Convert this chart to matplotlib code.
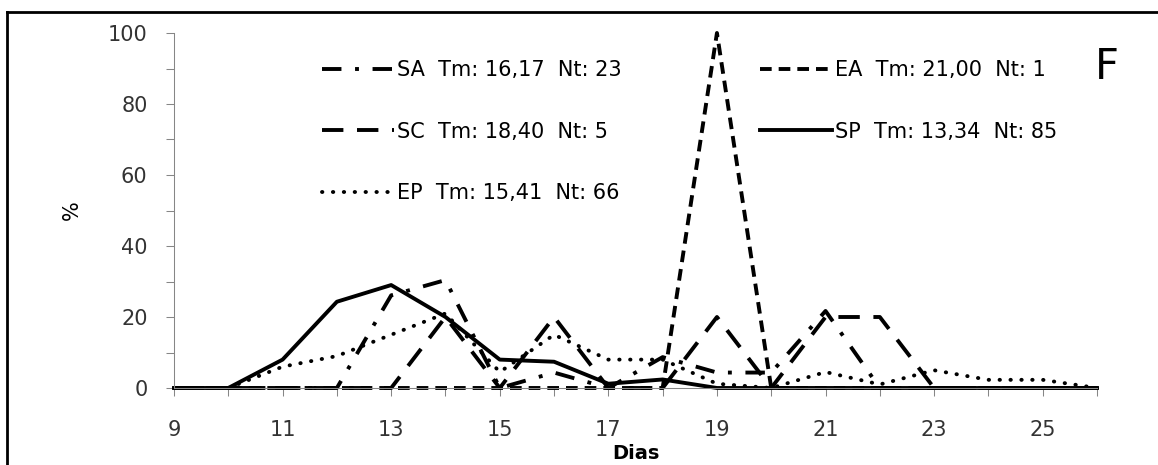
import matplotlib

matplotlib.use("Agg")
import matplotlib.pyplot as plt
from matplotlib.lines import Line2D

plt.rcParams["font.family"] = "DejaVu Sans"

W, H = 1158, 465

days = list(range(9, 27))
sa = [0, 0, 0, 0, 26.1, 30.4, 0, 4.35, 0, 8.7, 4.35, 4.35, 21.7, 0, 0, 0, 0, 0]
ea = [0, 0, 0, 0, 0, 0, 0, 0, 0, 0, 100, 0, 0, 0, 0, 0, 0, 0]
sc = [0, 0, 0, 0, 0, 20, 0, 20, 0, 0, 20, 0, 20, 20, 0, 0, 0, 0]
sp = [0, 0, 8, 24.3, 29, 20, 8, 7.4, 1.2, 2.4, 0, 0, 0, 0, 0, 0, 0, 0]
ep = [0, 0, 6, 9, 15, 21, 4.5, 15, 8, 8, 1.2, 0, 4.5, 1, 5, 2.3, 2.3, 0]

labels = {
    "SA": "SA  Tm: 16,17  Nt: 23",
    "EA": "EA  Tm: 21,00  Nt: 1",
    "SC": "SC  Tm: 18,40  Nt: 5",
    "SP": "SP  Tm: 13,34  Nt: 85",
    "EP": "EP  Tm: 15,41  Nt: 66",
}

LW = 2.8
GRAY = "#868686"

fig = plt.figure(figsize=(W / 100, H / 100), dpi=100)
ax = fig.add_axes([174 / W, 1 - 388 / H, (1097 - 174) / W, (388 - 33) / H])

styles = {
    "SA": dict(linestyle=(0, (5, 3.5, 1, 3.5))),
    "EA": dict(linestyle=(0, (3, 1.8))),
    "SC": dict(linestyle=(0, (5.5, 3.5))),
    "SP": dict(linestyle="-"),
    "EP": dict(linestyle=(0, (0.1, 2.7)), dash_capstyle="round"),
}
series = {"SA": sa, "EA": ea, "SC": sc, "SP": sp, "EP": ep}

handles = {}
for key in ["SA", "EA", "SC", "SP", "EP"]:
    (ln,) = ax.plot(days, series[key], color="black", lw=LW, clip_on=False,
                    label=labels[key], **styles[key])
    handles[key] = ln

ax.set_xlim(9, 26)
ax.set_ylim(0, 100)
for side in ["top", "right"]:
    ax.spines[side].set_visible(False)
for side in ["left", "bottom"]:
    ax.spines[side].set_color(GRAY)
    ax.spines[side].set_linewidth(0.75)

ax.set_yticks(range(0, 101, 20))
ax.set_yticks(range(10, 100, 20), minor=True)
ax.set_xticks(range(9, 26, 2))
ax.set_xticks(range(10, 27, 2), minor=True)
ax.tick_params(axis="both", which="both", direction="out", length=6, width=0.75,
               color=GRAY, labelsize=15, labelcolor="#333333")
ax.tick_params(axis="y", which="major", pad=13)
ax.tick_params(axis="x", which="major", pad=17)

fig.text(72 / W, 1 - 210 / H, "%", rotation=90, ha="center", va="center", fontsize=15)
fig.text(636 / W, 1 - 453 / H, "Dias", ha="center", va="center", fontsize=14, fontweight="bold")
fig.text(1107 / W, 1 - 67 / H, "F", ha="center", va="center", fontsize=30)

leg_kw = dict(frameon=False, fontsize=15, handlelength=3.45, handletextpad=0.15,
              labelspacing=2.0, borderpad=0, borderaxespad=0, loc="upper left")
fig.legend([handles[k] for k in ["SA", "SC", "EP"]], [labels[k] for k in ["SA", "SC", "EP"]],
           bbox_to_anchor=(322 / W, 1 - 60 / H), **leg_kw)
fig.legend([handles[k] for k in ["EA", "SP"]], [labels[k] for k in ["EA", "SP"]],
           bbox_to_anchor=(760 / W, 1 - 60 / H), **leg_kw)

# outer frame (only top and left edges fall inside the picture)
fig.add_artist(Line2D([7.3 / W, 1.0], [1 - 11.7 / H, 1 - 11.7 / H], color="black", lw=2,
                      transform=fig.transFigure))
fig.add_artist(Line2D([7.3 / W, 7.3 / W], [0, 1 - 11.7 / H], color="black", lw=2,
                      transform=fig.transFigure))

fig.savefig("out.png", dpi=100, facecolor="white")
